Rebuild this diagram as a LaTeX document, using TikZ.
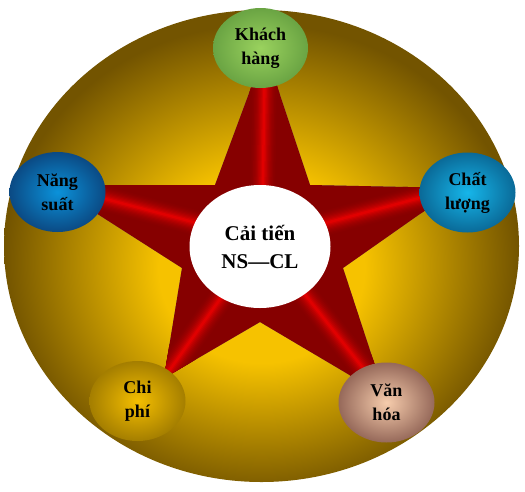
\documentclass[tikz,border=0pt]{standalone}
\usepackage{fontspec}
\setmainfont{Liberation Serif}
\usetikzlibrary{shapes.geometric}
\definecolor{glowA}{HTML}{F6C200}
\definecolor{glowB}{HTML}{735400}
\definecolor{starDark}{HTML}{860000}
\definecolor{starLight}{HTML}{E00000}
\definecolor{bevel}{HTML}{7A8C68}
\definecolor{greenA}{HTML}{9AD25E}
\definecolor{greenB}{HTML}{6AA443}
\definecolor{blueA}{HTML}{0B92DA}
\definecolor{blueB}{HTML}{0B4A84}
\definecolor{cyanA}{HTML}{16B6EA}
\definecolor{cyanB}{HTML}{0A6A98}
\definecolor{goldA}{HTML}{F4BE00}
\definecolor{goldB}{HTML}{A47E00}
\definecolor{peachA}{HTML}{F6CCAC}
\definecolor{peachB}{HTML}{96695A}
\pgfdeclareradialshading{bigglow}{\pgfpoint{0bp}{-3bp}}{color(0bp)=(glowA); color(10bp)=(glowA); color(25bp)=(glowB); color(50bp)=(glowB)}
\tikzset{
  petal/.style={ellipse, inner sep=0pt, minimum width=96pt, minimum height=80pt,
    font=\bfseries\fontsize{18}{24}\selectfont, align=center, text=black},
  hub/.style={ellipse, inner sep=0pt, fill=white, minimum width=141pt, minimum height=123pt,
    font=\bfseries\fontsize{21}{28}\selectfont, align=center, text=black},
}
\begin{document}
\begin{tikzpicture}[x=1pt,y=-1pt]
\useasboundingbox (0,0) rectangle (525,491);
% big background ellipse
\shade[shading=bigglow] (261.5,246) ellipse [x radius=257.5pt, y radius=236pt];
% star corners
\coordinate (T) at (265,50);
\coordinate (UR) at (310,185);
\coordinate (R) at (457,188);
\coordinate (LR) at (343,268);
\coordinate (BR) at (385,396);
\coordinate (B) at (260,322);
\coordinate (BL) at (164,378);
\coordinate (LL) at (182,268);
\coordinate (L) at (52,185);
\coordinate (UL) at (215,185);
\coordinate (C) at (262,240);
% bevel shadow
\fill[bevel, shift={(1.2,2.5)}] (T) -- (UR) -- (R) -- (LR) -- (BR) -- (B) -- (BL) -- (LL) -- (L) -- (UL) -- cycle;
% star body
\begin{scope}
\clip (T) -- (UR) -- (R) -- (LR) -- (BR) -- (B) -- (BL) -- (LL) -- (L) -- (UL) -- cycle;
\fill[starDark] (0,0) rectangle (525,491);
\foreach \i in {0,...,11}{
  \pgfmathsetmacro\w{30-2.5*\i}
  \pgfmathtruncatemacro\p{(\i/11)^2*100}
  \foreach \tip in {T,R,BR,BL,L}{
    \draw[line width=\w pt, color=starLight!\p!starDark, line cap=round] (C) -- (\tip);
  }
}
\end{scope}
% hub
\node[hub] (hub) at (260,246.5) {Cải tiến\\NS—CL};
% petals
\node[petal, shading=radial, inner color=greenA, outer color=greenB, minimum width=95pt] (kh) at (260.5,48) {Khách\\hàng};
\node[petal, shading=radial, inner color=blueA, outer color=blueB] (ns) at (57.5,192) {Năng\\suất};
\node[petal, shading=radial, inner color=cyanA, outer color=cyanB] (cl) at (467.5,192.5) {Chất\\lượng};
\node[petal, shading=radial, inner color=goldA, outer color=goldB] (cp) at (137.5,401) {Chi\\phí};
\node[petal, shading=radial, inner color=peachA, outer color=peachB] (vh) at (386.5,402.5) {Văn\\hóa};
\end{tikzpicture}
\end{document}
